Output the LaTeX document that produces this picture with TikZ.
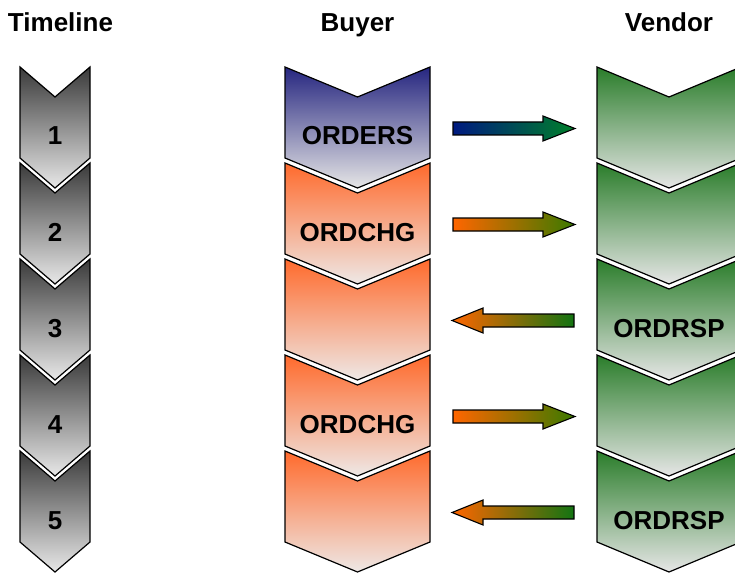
\documentclass[tikz,border=0pt]{standalone}
\usepackage{fontspec}
\setmainfont{Liberation Sans}
\usetikzlibrary{calc}
\definecolor{tltop}{HTML}{3A3A3A}
\definecolor{tlbot}{HTML}{E8E8E8}
\definecolor{bluetop}{HTML}{262680}
\definecolor{orangetop}{HTML}{FF6A2C}
\definecolor{orangebot}{HTML}{EEE8E6}
\definecolor{greentop}{HTML}{2A7D2A}
\definecolor{graybot}{HTML}{E6E6E6}
\definecolor{arrblue}{HTML}{001A80}
\definecolor{arrgreen}{HTML}{00802A}
\definecolor{arrorange}{HTML}{FF6600}
\definecolor{arrolive}{HTML}{3A7A00}
\definecolor{arrgreen2}{HTML}{127412}
\newcommand\chevshape[4]{%
  \pgfmathsetmacro\cmid{(#1+#2)/2}%
  \path[chev,#4] (#1,#3) -- (\cmid,#3+30) -- (#2,#3) -- (#2,#3+91)
     -- (\cmid,#3+121) -- (#1,#3+91) -- cycle;}
\newcommand\rarrowshape[3]{% start, tip, name prefix
  \path[blockarrow,#3] ($(#1)+(0,-6.5)$) -- ($(#2)+(-32,-6.5)$) -- ($(#2)+(-32,-12.5)$)
     -- (#2) -- ($(#2)+(-32,12.5)$) -- ($(#2)+(-32,6.5)$) -- ($(#1)+(0,6.5)$) -- cycle;}
\newcommand\larrowshape[3]{% start (right end), tip (left), style
  \path[blockarrow,#3] ($(#1)+(0,-6.5)$) -- ($(#2)+(31,-6.5)$) -- ($(#2)+(31,-12.5)$)
     -- (#2) -- ($(#2)+(31,12.5)$) -- ($(#2)+(31,6.5)$) -- ($(#1)+(0,6.5)$) -- cycle;}
\begin{document}
\begin{tikzpicture}[x=1pt,y=-1pt,
  chev/.style={draw=black,line width=1.2pt,line join=miter},
  tlfill/.style={top color=tltop,bottom color=tlbot},
  bluefill/.style={top color=bluetop,bottom color=graybot},
  orangefill/.style={top color=orangetop,bottom color=orangebot},
  greenfill/.style={top color=greentop,bottom color=graybot},
  blockarrow/.style={draw=black,line width=1.1pt,line join=miter},
  bluegreen/.style={left color=arrblue,right color=arrgreen},
  orangeolive/.style={left color=arrorange,right color=arrolive},
  orangegreen/.style={left color=arrorange,right color=arrgreen2},
  lbl/.style={font=\fontsize{26}{30}\selectfont\bfseries,anchor=base,inner sep=0pt}]
\useasboundingbox (0,0) rectangle (735,572);
\begin{scope}
\clip (0,0) rectangle (735,572);
% titles
\node[lbl] (ttl) at (60.5,32) {Timeline};
\node[lbl] (btl) at (357.5,32) {Buyer};
\node[lbl] (vtl) at (669,32) {Vendor};
% timeline
\foreach \k in {1,...,5}{
  \pgfmathsetmacro\top{67+96*(\k-1)}
  \chevshape{20}{90}{\top}{tlfill}
  \node[lbl] (t\k) at (55,\top+78) {\k};
}
% buyer
\chevshape{285}{430}{67}{bluefill}
\chevshape{285}{430}{163}{orangefill}
\chevshape{285}{430}{259}{orangefill}
\chevshape{285}{430}{355}{orangefill}
\chevshape{285}{430}{451}{orangefill}
\node[lbl] (b1) at (357.5,145) {ORDERS};
\node[lbl] (b2) at (357.5,241) {ORDCHG};
\node[lbl] (b4) at (357.5,433) {ORDCHG};
% vendor
\foreach \k in {1,...,5}{
  \pgfmathsetmacro\top{67+96*(\k-1)}
  \chevshape{597}{741}{\top}{greenfill}
}
\node[lbl] (v3) at (669,337) {ORDRSP};
\node[lbl] (v5) at (669,529) {ORDRSP};
% arrow end points
\coordinate (a1s) at (453,128.5); \coordinate (a1e) at (575,128.5);
\coordinate (a2s) at (453,224.5); \coordinate (a2e) at (575,224.5);
\coordinate (a3s) at (574,320.5); \coordinate (a3e) at (452,320.5);
\coordinate (a4s) at (453,416.5); \coordinate (a4e) at (575,416.5);
\coordinate (a5s) at (574,512.5); \coordinate (a5e) at (452,512.5);
\rarrowshape{a1s}{a1e}{bluegreen}
\rarrowshape{a2s}{a2e}{orangeolive}
\larrowshape{a3s}{a3e}{orangegreen}
\rarrowshape{a4s}{a4e}{orangeolive}
\larrowshape{a5s}{a5e}{orangegreen}
\end{scope}
\end{tikzpicture}
\end{document}
